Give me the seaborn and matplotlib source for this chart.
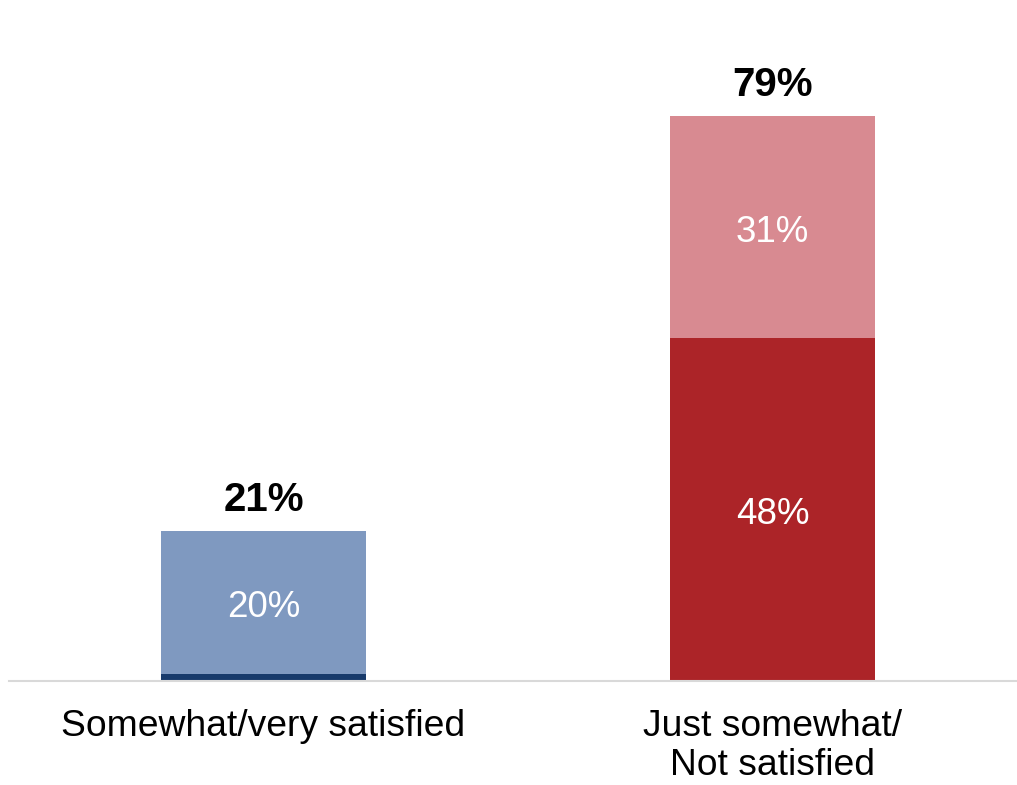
import matplotlib
matplotlib.use("Agg")
import matplotlib.pyplot as plt
import seaborn as sns
import pandas as pd

categories = ["Somewhat/very satisfied", "Just somewhat/\nNot satisfied"]
tick_labels = ["Somewhat/very satisfied", "Just somewhat/\nNot satisfied"]
inner_values = [1, 48]      # bottom segment (very satisfied / not satisfied)
outer_values = [20, 31]     # top segment (somewhat / just somewhat)
totals = [21, 79]

inner_colors = ["#173A6B", "#AC2428"]
outer_colors = ["#7F99C0", "#D88A91"]

sns.set_theme(style="white")
plt.rcParams["font.family"] = ["Liberation Sans", "DejaVu Sans"]

df = pd.DataFrame({
    "category": categories,
    "inner": inner_values,
    "outer": outer_values,
    "total": totals,
})

fig = plt.figure(figsize=(10.17, 7.85), dpi=100)
ax = fig.add_axes([9 / 1017, 1 - 681 / 785, 1 - 9 / 1017, 643.5 / 785])

# stacked bars: full totals first, inner segments drawn over them
sns.barplot(data=df, x="category", y="total", hue="category",
            palette=outer_colors, width=0.403, legend=False,
            saturation=1, ax=ax, linewidth=0)
sns.barplot(data=df, x="category", y="inner", hue="category",
            palette=inner_colors, width=0.403, legend=False,
            saturation=1, ax=ax, linewidth=0)

ax.set_ylim(0, 90)
ax.set_xlim(-0.5, 1.48)

for i in range(len(categories)):
    # segment labels
    if outer_values[i] >= 5:
        ax.annotate(f"{outer_values[i]}%", (i, inner_values[i] + outer_values[i] / 2),
                    xytext=(0, -4), textcoords="offset points",
                    ha="center", va="center", color="white", fontsize=26.5)
    if inner_values[i] >= 5:
        ax.annotate(f"{inner_values[i]}%", (i, inner_values[i] / 2),
                    xytext=(0, -4), textcoords="offset points",
                    ha="center", va="center", color="white", fontsize=26.5)
    # total labels
    ax.annotate(f"{totals[i]}%", (i, totals[i]), xytext=(0, 8.5),
                textcoords="offset points", ha="center", va="bottom",
                fontsize=29, fontweight="bold", color="black")

ax.set_xlabel("")
ax.set_ylabel("")
ax.set_yticks([])
ax.set_xticks(range(len(categories)))
ax.set_xticklabels(tick_labels, fontsize=26.8, linespacing=1.14)
ax.tick_params(axis="x", length=0, pad=20, colors="black")

for side in ["top", "left", "right"]:
    ax.spines[side].set_visible(False)
ax.spines["bottom"].set_color("#D9D9D9")
ax.spines["bottom"].set_linewidth(1.5)

fig.savefig("out.png", dpi=100, facecolor="white")
